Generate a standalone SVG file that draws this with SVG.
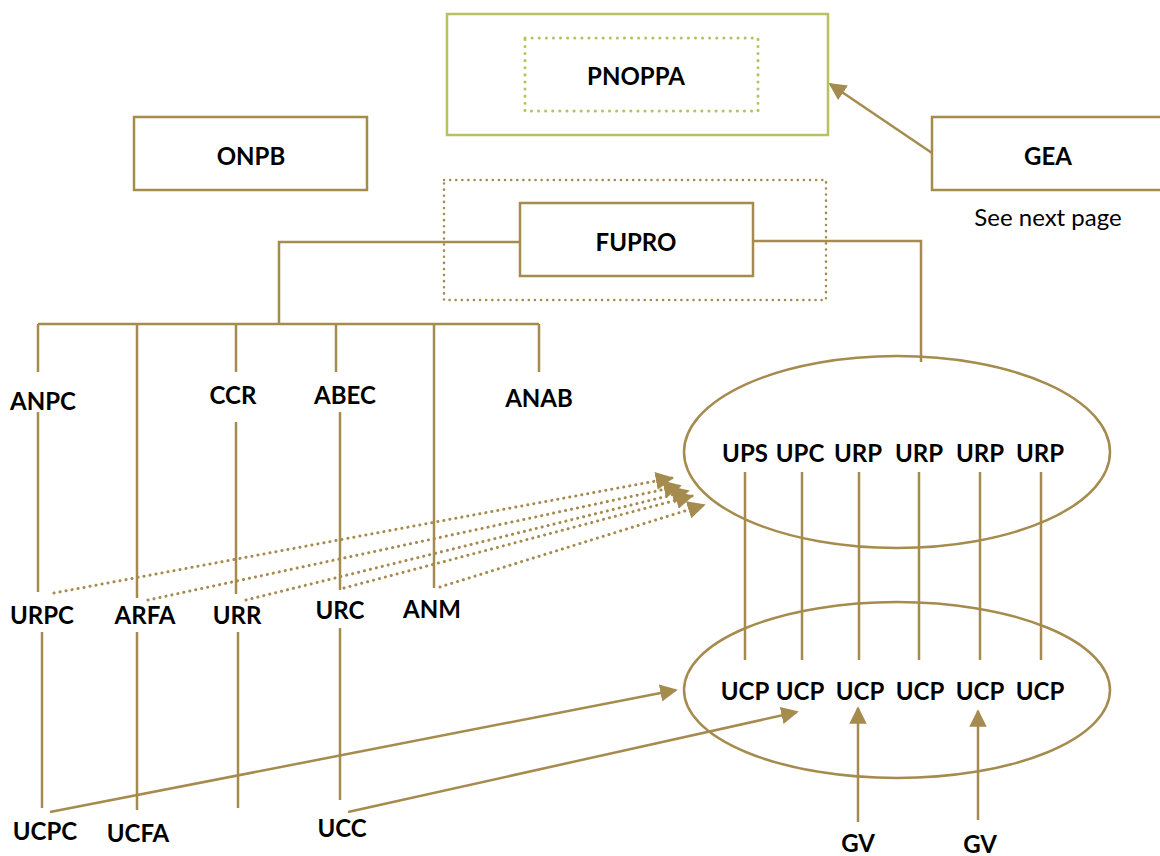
<svg xmlns="http://www.w3.org/2000/svg" width="1160" height="856" viewBox="0 0 1160 856">
<style>
.t{font-family:Lato,"Open Sans",sans-serif;font-weight:bold;font-size:24px;fill:#000;text-anchor:middle;dominant-baseline:central}
.n{font-family:Lato,"Open Sans",sans-serif;font-size:24px;fill:#000;text-anchor:middle;dominant-baseline:central}
.box{fill:#fff;stroke:#a58b4d;stroke-width:2.5}
.g{stroke:#a58b4d;stroke-width:2.5;fill:none}
.d{stroke:#a58b4d;stroke-width:3;fill:none;stroke-dasharray:0.1 6;stroke-linecap:round}
.ell{fill:none;stroke:#a58b4d;stroke-width:2.5}
</style>
<defs>
<marker id="ah2" viewBox="0 0 10 10" refX="9" refY="5" markerWidth="7" markerHeight="7" orient="auto">
<path d="M0,0 L10,5 L0,10 z" fill="#a58b4d"/>
</marker>
<marker id="ah3" viewBox="0 0 10 10" refX="9" refY="5" markerWidth="6" markerHeight="6" orient="auto">
<path d="M0,0 L10,5 L0,10 z" fill="#a58b4d"/>
</marker>
</defs>
<rect width="1160" height="856" fill="#fff"/>

<g id="connectors">
<path class="g" d="M520,242 H279 V324 M38,324 H539 M38,324 V372 M137,324 V598 M236,324 V372 M336,324 V372 M434,324 V588 M539,324 V372"/>
<path class="g" d="M753,241 H921 V362"/>
<path class="g" d="M38,412 V592 M42,632 V808 M137,632 V810 M236,422 V594 M238,632 V808 M340,412 V590 M340,628 V800"/>
<path class="g" d="M745,472 V660 M802,472 V660 M859,472 V660 M919,472 V660 M980,472 V660 M1041,472 V660"/>
<path class="d" d="M54,593 L672,478" marker-end="url(#ah3)"/>
<path class="d" d="M148,600 L680,486" marker-end="url(#ah3)"/>
<path class="d" d="M246,600 L688,491" marker-end="url(#ah3)"/>
<path class="d" d="M344,588 L692,496" marker-end="url(#ah3)"/>
<path class="d" d="M440,587 L704,505" marker-end="url(#ah3)"/>
<path class="g" d="M50,812 L676,690" marker-end="url(#ah2)"/>
<path class="g" d="M348,812 L797,712" marker-end="url(#ah2)"/>
<path class="g" d="M858,822 L858,708" marker-end="url(#ah2)"/>
<path class="g" d="M978,820 L978,711" marker-end="url(#ah2)"/>
<path class="g" d="M932,153 L830,84" marker-end="url(#ah2)"/>
</g>

<g id="pnoppa">
<rect x="447" y="14" width="381" height="121" fill="#fff" stroke="#b7c25f" stroke-width="2.5"/>
<rect x="525" y="38" width="233" height="73" fill="none" stroke="#b7c25f" stroke-width="3" stroke-dasharray="0.1 7" stroke-linecap="round"/>
<text class="t" x="636" y="75">PNOPPA</text>
</g>
<g id="onpb">
<rect class="box" x="134" y="117" width="233" height="73"/>
<text class="t" x="251" y="155">ONPB</text>
</g>
<g id="gea">
<rect class="box" x="932" y="117" width="240" height="73"/>
<text class="t" x="1048" y="155">GEA</text>
<text class="n" x="1048" y="216">See next page</text>
</g>
<g id="fupro">
<rect x="444" y="180" width="382" height="120" fill="none" stroke="#a58b4d" stroke-width="2.5" stroke-dasharray="0.1 6" stroke-linecap="round"/>
<rect class="box" x="520" y="203" width="233" height="73"/>
<text class="t" x="636" y="241">FUPRO</text>
</g>

<g id="anpc"><text class="t" x="43" y="400">ANPC</text></g>
<g id="ccr"><text class="t" x="233" y="394">CCR</text></g>
<g id="abec"><text class="t" x="345" y="394">ABEC</text></g>
<g id="anab"><text class="t" x="539" y="397">ANAB</text></g>
<g id="urpc"><text class="t" x="42" y="614">URPC</text></g>
<g id="arfa"><text class="t" x="145" y="614">ARFA</text></g>
<g id="urr"><text class="t" x="237" y="614">URR</text></g>
<g id="urc"><text class="t" x="340" y="609">URC</text></g>
<g id="anm"><text class="t" x="432" y="608">ANM</text></g>
<g id="ucpc"><text class="t" x="45" y="830">UCPC</text></g>
<g id="ucfa"><text class="t" x="138" y="832">UCFA</text></g>
<g id="ucc"><text class="t" x="342" y="827">UCC</text></g>

<g id="top-ellipse">
<ellipse class="ell" cx="897" cy="452" rx="213" ry="96"/>
<text class="t" x="745" y="452">UPS</text>
<text class="t" x="800" y="452">UPC</text>
<text class="t" x="858" y="452">URP</text>
<text class="t" x="919" y="452">URP</text>
<text class="t" x="980" y="452">URP</text>
<text class="t" x="1040" y="452">URP</text>
</g>
<g id="bottom-ellipse">
<ellipse class="ell" cx="897" cy="690" rx="213" ry="88"/>
<text class="t" x="745" y="690">UCP</text>
<text class="t" x="800" y="690">UCP</text>
<text class="t" x="860" y="690">UCP</text>
<text class="t" x="920" y="690">UCP</text>
<text class="t" x="980" y="690">UCP</text>
<text class="t" x="1040" y="690">UCP</text>
</g>
<g id="gv1"><text class="t" x="858" y="842">GV</text></g>
<g id="gv2"><text class="t" x="980" y="843">GV</text></g>
</svg>
